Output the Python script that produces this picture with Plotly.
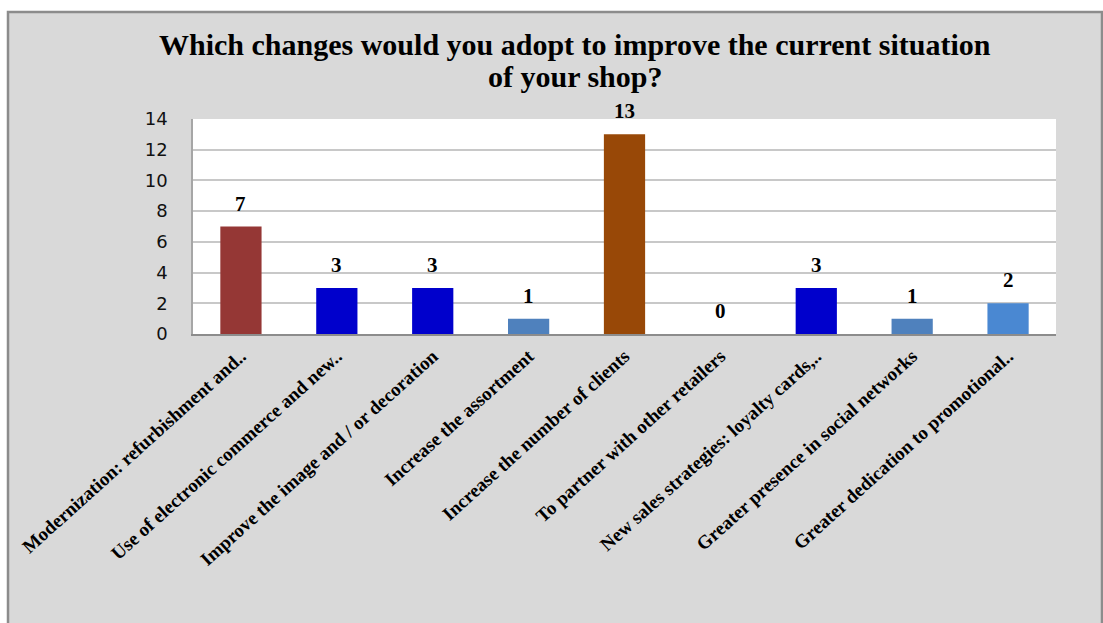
import plotly.graph_objects as go

# Survey answers: changes shop owners would adopt
categories = [
    "Modernization: refurbishment and..",
    "Use of electronic commerce and new..",
    "Improve the image and / or decoration",
    "Increase the assortment",
    "Increase the number of clients",
    "To partner with other retailers",
    "New sales strategies: loyalty cards,..",
    "Greater presence in social networks",
    "Greater dedication to promotional..",
]
responses = [7, 3, 3, 1, 13, 0, 3, 1, 2]
bar_colors = ["#953735", "#0000CC", "#0000CC", "#4F81BD", "#984807",
              "#4F81BD", "#0000CC", "#4F81BD", "#4A88D2"]
y_ticks = [0, 2, 4, 6, 8, 10, 12, 14]
title_lines = ["Which changes would you adopt to improve the current situation",
               "of your shop?"]

W, H = 1103, 623
L, R, T, B = 193, 47, 119, 289
pw, ph = W - L - R, H - T - B


def px_x(p):
    return (p - L) / pw


def px_y(p):
    return (H - B - p) / ph


serif = "Liberation Serif, Times New Roman, serif"

fig = go.Figure()
fig.add_trace(go.Bar(
    x=categories,
    y=responses,
    marker=dict(color=bar_colors, line=dict(width=0)),
    width=0.43,
    hoverinfo="x+y",
))

# value labels above each bar
annotations = [
    dict(x=c, y=v, xref="x", yref="y", text=str(v), showarrow=False,
         yanchor="bottom", yshift=9,
         font=dict(family=serif, size=21, color="#000000", weight="bold"))
    for c, v in zip(categories, responses)
]

# two-line chart title with tight line spacing
for line, ypx in zip(title_lines, [45, 76]):
    annotations.append(dict(
        x=px_x(575), y=px_y(ypx), xref="paper", yref="paper",
        text=line, showarrow=False, xanchor="center", yanchor="middle",
        font=dict(family=serif, size=30, color="#000000", weight="bold"),
    ))

shapes = [
    # grey chart frame
    dict(type="rect", xref="paper", yref="paper", layer="below",
         x0=px_x(8), x1=px_x(1102), y0=px_y(640), y1=px_y(12),
         fillcolor="#D9D9D9", line=dict(color="#8C8C8C", width=2.5)),
    # white plotting area
    dict(type="rect", xref="paper", yref="paper", layer="below",
         x0=0, x1=1, y0=0, y1=1, fillcolor="#FFFFFF", line=dict(width=0)),
]

fig.update_layout(
    width=W, height=H,
    margin=dict(l=L, r=R, t=T, b=B, autoexpand=False),
    paper_bgcolor="#FFFFFF",
    plot_bgcolor="#FFFFFF",
    showlegend=False,
    annotations=annotations,
    shapes=shapes,
    xaxis=dict(
        type="category",
        tickangle=-42,
        tickfont=dict(family=serif, size=19, color="#000000", weight="bold"),
        showline=True, linecolor="#8C8C8C", linewidth=1.5,
        showgrid=False, ticks="",
        ticklabelstandoff=2,
    ),
    yaxis=dict(
        range=[0, 14],
        tickvals=y_ticks,
        tickfont=dict(family="DejaVu Sans, Verdana, sans-serif", size=18, color="#111111"),
        showgrid=True, gridcolor="#C8C8C8", gridwidth=1.5,
        showline=True, linecolor="#A6A6A6", linewidth=1.5,
        zeroline=False, ticks="",
        ticklabelstandoff=20,
    ),
    bargap=0.57,
)

fig.write_html("out.html")
